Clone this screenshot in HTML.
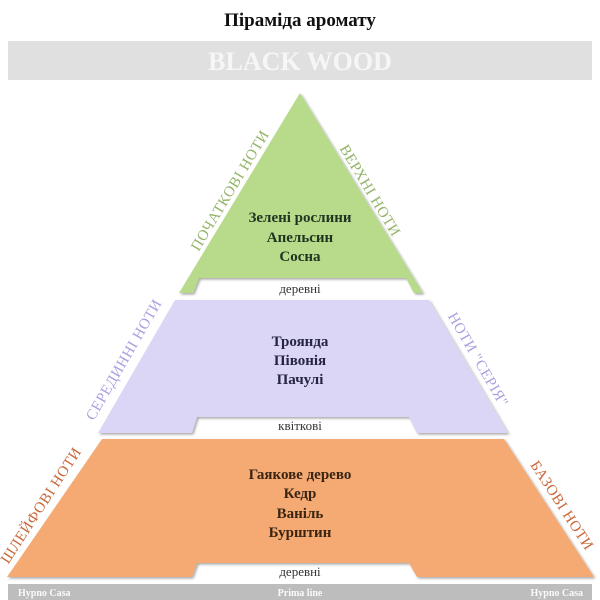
<!DOCTYPE html>
<html><head><meta charset="utf-8"><style>
html,body{margin:0;padding:0;background:#fff;width:600px;height:600px;overflow:hidden}
svg{display:block}
text{font-family:"Liberation Serif","DejaVu Serif",serif}
</style></head><body>
<svg width="600" height="600" viewBox="0 0 600 600" xmlns="http://www.w3.org/2000/svg">
<defs>
<filter id="sh" x="-10%" y="-10%" width="120%" height="120%">
<feDropShadow dx="1.5" dy="1.5" stdDeviation="1.2" flood-color="#000" flood-opacity="0.35"/>
</filter>
</defs>
<text x="300" y="26" text-anchor="middle" font-size="19" font-weight="bold" fill="#111">Піраміда аромату</text>
<rect x="8" y="41" width="584" height="39" fill="#e0e0e0"/>
<text x="300" y="70" text-anchor="middle" font-size="26" font-weight="bold" fill="#f6f6f6">BLACK WOOD</text>

<!-- green -->
<path d="M300,93 L423,293 L414,293 L406,278 L199,278 L193,293 L179,293 Z" fill="#b7da8b" filter="url(#sh)"/>
<g font-weight="bold" font-size="15" fill="#1f3520" text-anchor="middle">
<text x="300" y="222">Зелені рослини</text>
<text x="300" y="242">Апельсин</text>
<text x="300" y="261">Сосна</text>
</g>
<text x="300" y="293" text-anchor="middle" font-size="13" fill="#333">деревні</text>
<text transform="translate(234,193) rotate(-59)" text-anchor="middle" font-size="15" letter-spacing="0.5" fill="#93b468">ПОЧАТКОВІ НОТИ</text>
<text transform="translate(366,193) rotate(59)" text-anchor="middle" font-size="15" letter-spacing="0.5" fill="#93b468">ВЕРХНІ НОТИ</text>

<!-- purple -->
<path d="M175,300 L429,300 L508,433 L417,433 L409,417 L197,417 L192,433 L98,433 Z" fill="#dcd6f6" filter="url(#sh)"/>
<g font-weight="bold" font-size="15" fill="#252542" text-anchor="middle">
<text x="300" y="346">Троянда</text>
<text x="300" y="365">Півонія</text>
<text x="300" y="384">Пачулі</text>
</g>
<text x="300" y="430" text-anchor="middle" font-size="13" fill="#333">квіткові</text>
<text transform="translate(128,362) rotate(-60)" text-anchor="middle" font-size="15" letter-spacing="0.5" fill="#aaa0e2">СЕРЕДИННІ НОТИ</text>
<text transform="translate(474,362) rotate(60)" text-anchor="middle" font-size="15" letter-spacing="0.5" fill="#aaa0e2">НОТИ "СЕРІЯ"</text>

<!-- orange -->
<path d="M102,439 L504,439 L594,577 L417,577 L409,563 L197,563 L192,577 L7,577 Z" fill="#f4aa72" filter="url(#sh)"/>
<g font-weight="bold" font-size="15" fill="#3a2413" text-anchor="middle">
<text x="300" y="479">Гаякове дерево</text>
<text x="300" y="498">Кедр</text>
<text x="300" y="518">Ваніль</text>
<text x="300" y="537">Бурштин</text>
</g>
<text x="300" y="576" text-anchor="middle" font-size="13" fill="#333">деревні</text>
<text transform="translate(45,508) rotate(-57)" text-anchor="middle" font-size="15" letter-spacing="0.5" fill="#c8683a">ШЛЕЙФОВІ НОТИ</text>
<text transform="translate(558,508) rotate(57)" text-anchor="middle" font-size="15" letter-spacing="0.5" fill="#c8683a">БАЗОВІ НОТИ</text>

<rect x="8" y="584" width="584" height="16" fill="#bdbdbd"/>
<g font-size="10" font-weight="bold" fill="#fafafa">
<text x="18" y="596">Hypno Casa</text>
<text x="300" y="596" text-anchor="middle">Prima line</text>
<text x="583" y="596" text-anchor="end">Hypno Casa</text>
</g>
</svg>
</body></html>
